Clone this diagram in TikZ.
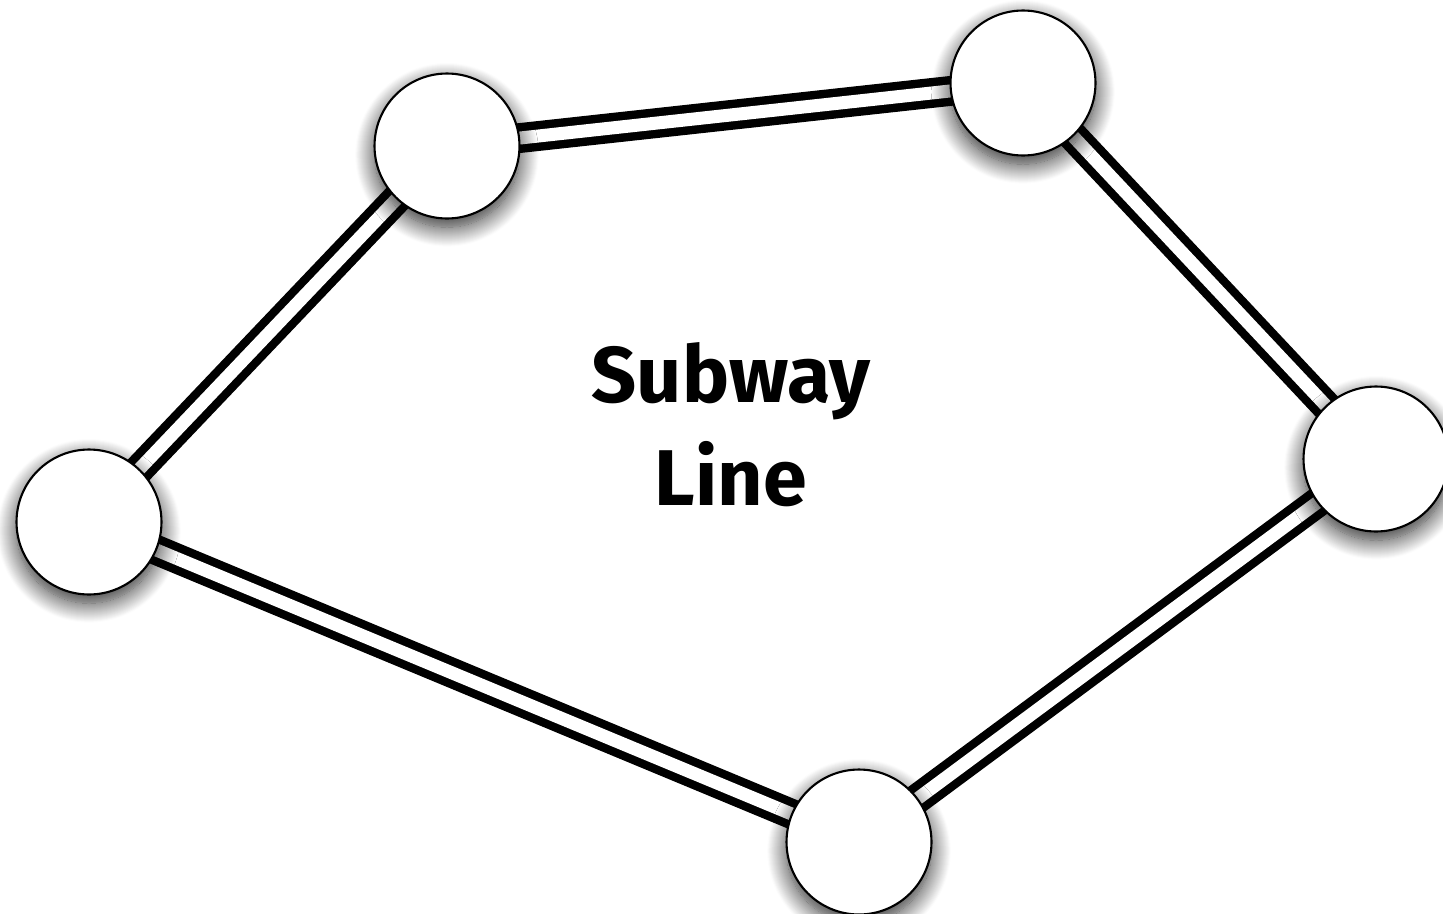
\documentclass[tikz,border=0pt]{standalone}
\usepackage{fontspec}
\newfontfamily\linefont{Fira Sans}
\usetikzlibrary{shadows.blur,backgrounds}

\begin{document}
\begin{tikzpicture}[
   x=0.02cm, y=-0.02cm,
   station/.style={circle, draw=black, line width=1.2pt, fill=white,
                   minimum size=2.9cm, inner sep=0pt,
                   blur shadow={shadow xshift=0pt, shadow yshift=-5pt,
                                shadow blur radius=11pt, shadow blur steps=20,
                                shadow opacity=85}},
   track/.style={draw=black, line width=4.8pt, double=white,
                 double distance=7.4pt},
   title/.style={font=\linefont\bfseries\fontsize{45}{58.5}\selectfont,
                 align=center}
]
\useasboundingbox (0,0) rectangle (1443,913);
% Stations
\node[station] (top)    at (447,146) {};
\node[station] (corner) at (1023,83) {};
\node[station] (east)   at (1376,459) {};
\node[station] (south)  at (859,842) {};
\node[station] (west)   at (89,522) {};
% Label
\node[title] (name) at (731,425) {Subway\\Line};

% Tracks
\begin{scope}[on background layer]
  \draw[track] (top.center) -- (corner.center);
  \draw[track] (corner.center) -- (east.center);
  \draw[track] (east.center) -- (south.center);
  \draw[track] (south.center) -- (west.center);
  \draw[track] (west.center) -- (top.center);
\end{scope}
\end{tikzpicture}
\end{document}
